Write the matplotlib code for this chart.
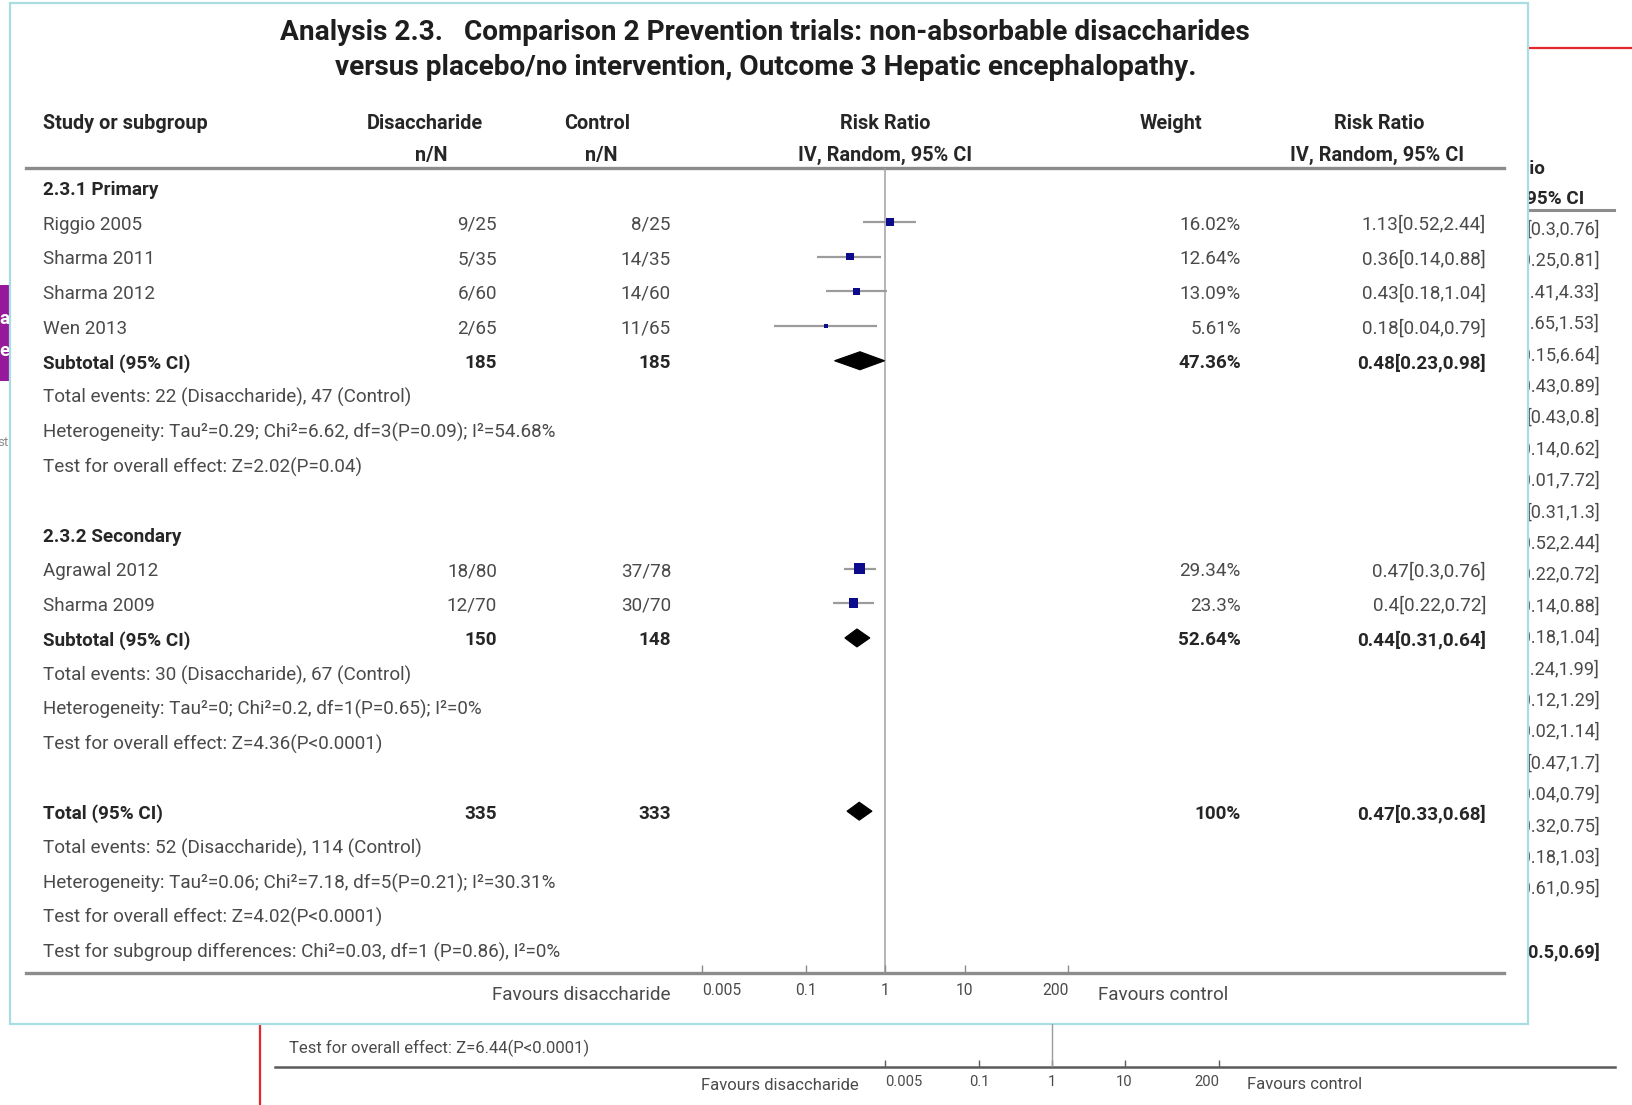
import matplotlib
matplotlib.use("Agg")
import matplotlib.pyplot as plt
from matplotlib import font_manager
from matplotlib.patches import Rectangle, Polygon
from matplotlib.ticker import NullLocator

# ---------------- data ----------------
title_lines = [
    "Analysis 2.3.   Comparison 2 Prevention trials: non-absorbable disaccharides",
    "versus placebo/no intervention, Outcome 3 Hepatic encephalopathy.",
]

subgroup_names = ["2.3.1 Primary", "2.3.2 Secondary"]

studies = ["Riggio 2005", "Sharma 2011", "Sharma 2012", "Wen 2013", "Agrawal 2012", "Sharma 2009"]
study_group = [0, 0, 0, 0, 1, 1]
dis_events = [9, 5, 6, 2, 18, 12]
dis_total = [25, 35, 60, 65, 80, 70]
ctl_events = [8, 14, 14, 11, 37, 30]
ctl_total = [25, 35, 60, 65, 78, 70]
rr = [1.13, 0.36, 0.43, 0.18, 0.47, 0.4]
rr_lo = [0.52, 0.14, 0.18, 0.04, 0.3, 0.22]
rr_hi = [2.44, 0.88, 1.04, 0.79, 0.76, 0.72]
weights = [16.02, 12.64, 13.09, 5.61, 29.34, 23.3]

sub_dis_total = [185, 150]
sub_ctl_total = [185, 148]
sub_rr = [0.48, 0.44]
sub_lo = [0.23, 0.31]
sub_hi = [0.98, 0.64]
sub_weight = [47.36, 52.64]
sub_notes = [
    ["Total events: 22 (Disaccharide), 47 (Control)",
     "Heterogeneity: Tau\u00b2=0.29; Chi\u00b2=6.62, df=3(P=0.09); I\u00b2=54.68%",
     "Test for overall effect: Z=2.02(P=0.04)"],
    ["Total events: 30 (Disaccharide), 67 (Control)",
     "Heterogeneity: Tau\u00b2=0; Chi\u00b2=0.2, df=1(P=0.65); I\u00b2=0%",
     "Test for overall effect: Z=4.36(P<0.0001)"],
]

total_dis, total_ctl = 335, 333
total_rr, total_lo, total_hi = 0.47, 0.33, 0.68
total_weight = 100
total_notes = [
    "Total events: 52 (Disaccharide), 114 (Control)",
    "Heterogeneity: Tau\u00b2=0.06; Chi\u00b2=7.18, df=5(P=0.21); I\u00b2=30.31%",
    "Test for overall effect: Z=4.02(P<0.0001)",
    "Test for subgroup differences: Chi\u00b2=0.03, df=1 (P=0.86), I\u00b2=0%",
]

xticks = [0.005, 0.1, 1, 10, 200]
xtick_labels = ["0.005", "0.1", "1", "10", "200"]
favours_left = "Favours disaccharide"
favours_right = "Favours control"

# page content lying behind the analysis window
behind_ci = ["[0.3,0.76]", "[0.25,0.81]", "[0.41,4.33]", "[0.65,1.53]", "[0.15,6.64]",
             "[0.43,0.89]", "[0.43,0.8]", "[0.14,0.62]", "[0.01,7.72]", "[0.31,1.3]",
             "[0.52,2.44]", "[0.22,0.72]", "[0.14,0.88]", "[0.18,1.04]", "[0.24,1.99]",
             "[0.12,1.29]", "[0.02,1.14]", "[0.47,1.7]", "[0.04,0.79]", "[0.32,0.75]",
             "[0.18,1.03]", "[0.61,0.95]", "", "[0.5,0.69]"]
behind_bold_rows = [23]
behind_effect = "Test for overall effect: Z=6.44(P<0.0001)"

# ---------------- figure setup ----------------
W, H = 1632, 1105
fig = plt.figure(figsize=(W / 100, H / 100), dpi=100)
renderer = fig.canvas.get_renderer()


def pick_font(cands):
    for c in cands:
        try:
            font_manager.findfont(font_manager.FontProperties(family=c), fallback_to_default=False)
            return c
        except Exception:
            pass
    return "DejaVu Sans"


FONT = pick_font(["Liberation Sans Narrow", "Roboto", "Liberation Sans"])
plt.rcParams["font.family"] = [FONT, "DejaVu Sans"]


def fitted_size(text, width_px, weight="normal", base=12.0):
    t = fig.text(0, 0, text, fontsize=base, fontweight=weight)
    w = t.get_window_extent(renderer).width
    t.remove()
    return base * width_px / w


FS_BODY = fitted_size(sub_notes[0][1], 512)
FS_HEAD = fitted_size("Study or subgroup", 164, "bold")
FS_TITLE = fitted_size(title_lines[0], 967, "bold")
FS_TICK = fitted_size("0.005", 39)
FS_BEHIND = fitted_size(behind_effect, 300)

C_TEXT = "#4a4a4a"
C_BOLD = "#262626"
C_LINE = "#8c8c8c"
Y_SHIFT = 2.5  # baseline nudge for centred text rows

bg = fig.add_axes([0, 0, 1, 1])
bg.set_xlim(0, W)
bg.set_ylim(H, 0)
bg.axis("off")


def fig_rect(x0, y0, x1, y1):
    return [x0 / W, 1 - y1 / H, (x1 - x0) / W, (y1 - y0) / H]


def txt(x, y, s, ha="left", bold=False, size=None, color=None, z=5, **kw):
    return bg.text(x, y + Y_SHIFT, s, ha=ha, va="center", fontsize=size or FS_BODY,
                   fontweight="bold" if bold else "normal",
                   color=color or (C_BOLD if bold else C_TEXT), zorder=z, **kw)


def style_log_axis(a, tick_len, tick_color, label_size, pad):
    a.set_xscale("log")
    a.set_xlim(xticks[0], xticks[-1])
    a.patch.set_visible(False)
    for sp in a.spines.values():
        sp.set_visible(False)
    a.set_yticks([])
    a.set_xticks(xticks, labels=xtick_labels)
    a.xaxis.set_minor_locator(NullLocator())
    a.tick_params(axis="x", direction="in", length=tick_len, width=1, color=tick_color,
                  labelsize=label_size, labelcolor=C_TEXT, pad=pad)
    labels = a.get_xticklabels()
    labels[0].set_ha("left")
    labels[-1].set_ha("right")


# ---------------- page behind the window ----------------
bg.plot([1528, W], [48, 48], color="#e3262b", lw=1.6, zorder=1)
txt(1502, 166, "Risk Ratio", ha="center", bold=True, z=1)
txt(1502, 196, "IV, Random, 95% CI", ha="center", bold=True, z=1)
bg.plot([1505, 1614], [210, 210], color=C_LINE, lw=2.2, zorder=1)
for i, s in enumerate(behind_ci):
    if s:
        txt(1600, 227 + 31.4 * i, s, ha="right", bold=i in behind_bold_rows,
            size=FS_BODY * 0.96, z=1)

purple = Rectangle((0, 285), 10, 96, facecolor="#96199c", edgecolor="none", zorder=1)
bg.add_patch(purple)
for s, y in (("a", 316), ("e", 348)):
    t = txt(-1, y, s, bold=True, color="white", z=1.5)
    t.set_clip_path(purple)
txt(9, 440, "st", ha="right", size=FS_BODY * 0.7, color="#8a8a8a", z=1)

bg.plot([260, 260], [1024, H], color="#e3262b", lw=1.6, zorder=1)
txt(289, 1046, behind_effect, size=FS_BEHIND, z=1)
bg.plot([275, 1615], [1067, 1067], color="#5a5a5a", lw=1.8, zorder=1)
txt(859, 1083, favours_left, ha="right", size=FS_BEHIND, z=1)
txt(1247, 1082, favours_right, size=FS_BEHIND, z=1)

ax2 = fig.add_axes(fig_rect(885, 1024, 1219, 1067))
ax2.set_ylim(0, 1)
style_log_axis(ax2, 5, "#5a5a5a", FS_TICK * 0.95, 6)
ax2.axvline(1, color="#9a9a9a", lw=1.0)

# ---------------- analysis window ----------------
panel = Rectangle((10, 3), 1518, 1021, facecolor="white", edgecolor="#a9dde2",
                  lw=1.6, zorder=2)
bg.add_patch(panel)

txt(765, 30, title_lines[0], ha="center", bold=True, size=FS_TITLE, color="#1e1e1e")
txt(766, 65, title_lines[1], ha="center", bold=True, size=FS_TITLE, color="#1e1e1e")

X_LABEL, X_DIS, X_CTL, X_WT, X_CI = 43, 497, 671, 1241, 1486
txt(X_LABEL, 121, "Study or subgroup", bold=True, size=FS_HEAD)
txt(425, 121, "Disaccharide", ha="center", bold=True, size=FS_HEAD)
txt(431, 153, "n/N", ha="center", bold=True, size=FS_HEAD)
txt(597, 121, "Control", ha="center", bold=True, size=FS_HEAD)
txt(601, 153, "n/N", ha="center", bold=True, size=FS_HEAD)
txt(885, 121, "Risk Ratio", ha="center", bold=True, size=FS_HEAD)
txt(885, 153, "IV, Random, 95% CI", ha="center", bold=True, size=FS_HEAD)
txt(1171, 121, "Weight", ha="center", bold=True, size=FS_HEAD)
txt(1379, 121, "Risk Ratio", ha="center", bold=True, size=FS_HEAD)
txt(1377, 153, "IV, Random, 95% CI", ha="center", bold=True, size=FS_HEAD)
bg.plot([26, 1504], [168, 168], color=C_LINE, lw=2.4, zorder=4)
bg.plot([26, 1504], [973, 973], color=C_LINE, lw=2.4, zorder=4)

ROW0, ROW_H = 187.5, 34.65


def row_px(i):
    return ROW0 + ROW_H * i


def row_of(px):
    return (px - ROW0) / ROW_H


ax = fig.add_axes(fig_rect(702.3, 168, 1068.3, 973))
ax.set_ylim(row_of(973), row_of(168))
style_log_axis(ax, 6, C_LINE, FS_TICK, 7)
ax.axvline(1, color="#a0a0a0", lw=1.1, zorder=1)

txt(671, 993, favours_left, ha="right")
txt(1098, 992, favours_right)


def fmt_ci(est, lo, hi):
    return f"{est}[{lo},{hi}]"


def diamond(est, lo, hi, y, half=0.26):
    ax.add_patch(Polygon([(lo, y), (est, y - half), (hi, y), (est, y + half)],
                         closed=True, facecolor="black", edgecolor="black", lw=0.8, zorder=4))


row = 0
for g, name in enumerate(subgroup_names):
    txt(X_LABEL, row_px(row), name, bold=True)
    row += 1
    for k in [k for k in range(len(studies)) if study_group[k] == g]:
        y = row_px(row)
        txt(X_LABEL, y, studies[k])
        txt(X_DIS, y, f"{dis_events[k]}/{dis_total[k]}", ha="right")
        txt(X_CTL, y, f"{ctl_events[k]}/{ctl_total[k]}", ha="right")
        txt(X_WT, y, f"{weights[k]}%", ha="right")
        txt(X_CI, y, fmt_ci(rr[k], rr_lo[k], rr_hi[k]), ha="right")
        ax.plot([rr_lo[k], rr_hi[k]], [row, row], color="#9c9c9c", lw=1.6, zorder=2,
                solid_capstyle="butt")
        side_px = 2.0 * weights[k] ** 0.5
        ax.scatter([rr[k]], [row], marker="s", s=(side_px * 0.72) ** 2,
                   color="#0b0b8c", edgecolors="none", zorder=3)
        row += 1
    y = row_px(row)
    txt(X_LABEL, y, "Subtotal (95% CI)", bold=True)
    txt(X_DIS, y, str(sub_dis_total[g]), ha="right", bold=True)
    txt(X_CTL, y, str(sub_ctl_total[g]), ha="right", bold=True)
    txt(X_WT, y, f"{sub_weight[g]}%", ha="right", bold=True)
    txt(X_CI, y, fmt_ci(sub_rr[g], sub_lo[g], sub_hi[g]), ha="right", bold=True)
    diamond(sub_rr[g], sub_lo[g], sub_hi[g], row)
    row += 1
    for note in sub_notes[g]:
        txt(X_LABEL, row_px(row), note)
        row += 1
    row += 1  # blank spacer row

y = row_px(row)
txt(X_LABEL, y, "Total (95% CI)", bold=True)
txt(X_DIS, y, str(total_dis), ha="right", bold=True)
txt(X_CTL, y, str(total_ctl), ha="right", bold=True)
txt(X_WT, y, f"{total_weight}%", ha="right", bold=True)
txt(X_CI, y, fmt_ci(total_rr, total_lo, total_hi), ha="right", bold=True)
diamond(total_rr, total_lo, total_hi, row)
row += 1
for note in total_notes:
    txt(X_LABEL, row_px(row), note)
    row += 1

fig.savefig("out.png", dpi=100)
